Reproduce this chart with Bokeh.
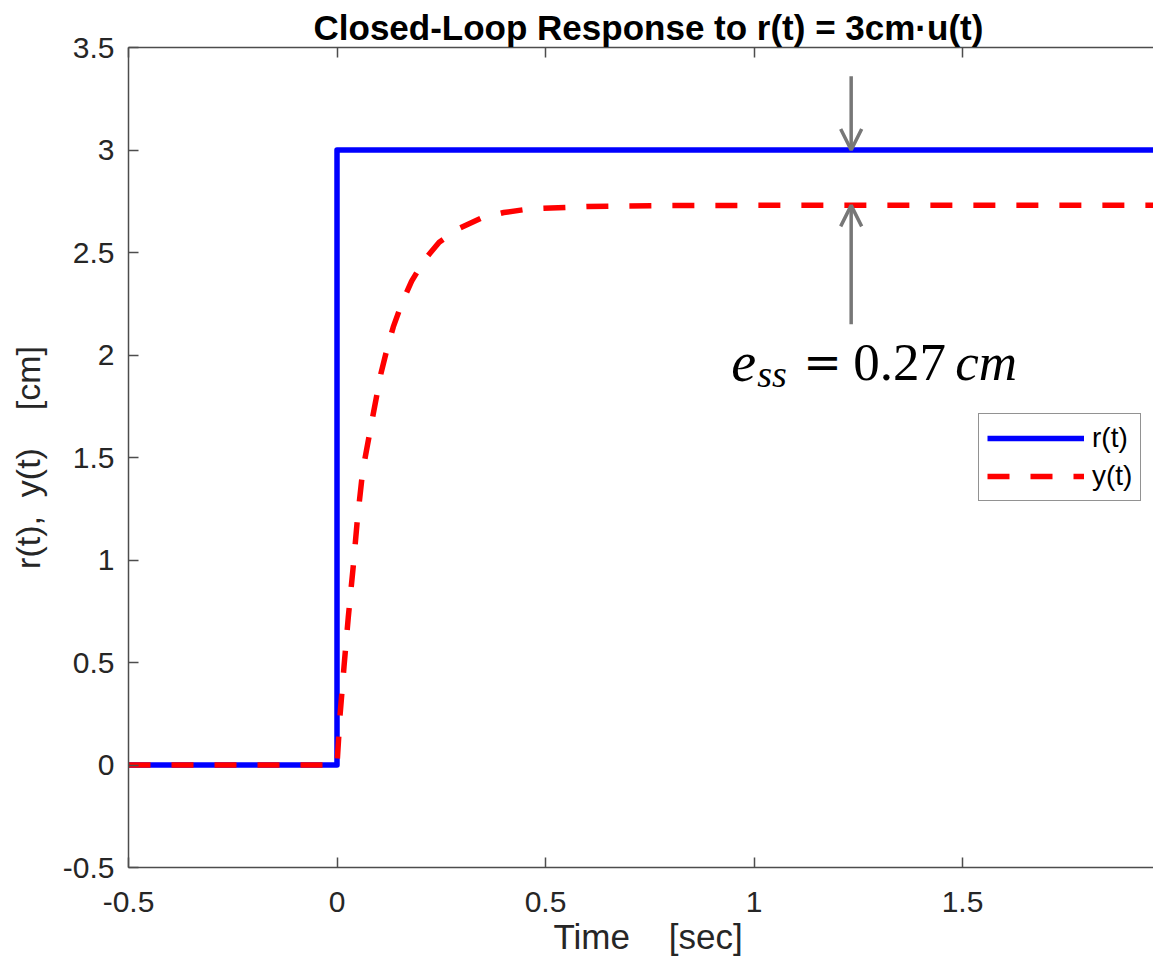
from bokeh.plotting import figure
from bokeh.models import (FixedTicker, LinearAxis, Label, Arrow, OpenHead,
                          Legend, LegendItem, Range1d, Title)
from bokeh.embed import file_html
from bokeh.resources import INLINE

# ---- data ----
t_ref = [-0.5, 0.0, 0.0, 2.0]
r_ref = [0.0, 0.0, 3.0, 3.0]

t_out = [-0.5, 0.0, 0.0072, 0.0168, 0.027, 0.0384, 0.0488, 0.0616, 0.083,
         0.105, 0.12, 0.135, 0.156, 0.179, 0.21, 0.245, 0.295, 0.347, 0.40,
         0.463, 0.60, 0.80, 1.0, 1.5, 2.0]
y_out = [0.0, 0.0, 0.24, 0.48, 0.72, 0.957, 1.196, 1.434, 1.67,
         1.907, 2.03, 2.137, 2.255, 2.36, 2.465, 2.55, 2.62, 2.669, 2.695,
         2.713, 2.724, 2.729, 2.73, 2.73, 2.73]

x_ticks = [-0.5, 0.0, 0.5, 1.0, 1.5]
x_tick_labels = ["-0.5", "0", "0.5", "1", "1.5"]
y_ticks = [-0.5, 0.0, 0.5, 1.0, 1.5, 2.0, 2.5, 3.0, 3.5]
y_tick_labels = ["-0.5", "0", "0.5", "1", "1.5", "2", "2.5", "3", "3.5"]

r_final = 3.0
y_final = 2.73
ess_time = 1.233
ess_value = "0.27"

FONT = "Liberation Sans"
AXIS_COLOR = "#4d4d4d"
TEXT_COLOR = "#262626"
GRAY = "#777777"
NB = "\u00a0"

p = figure(width=1153, height=967,
           x_range=Range1d(-0.5, 1.958), y_range=Range1d(-0.5, 3.5),
           output_backend="svg", toolbar_location=None,
           min_border_left=128, min_border_right=0,
           min_border_top=47, min_border_bottom=100)
p.grid.visible = False
p.outline_line_color = None
p.background_fill_color = "white"
p.border_fill_color = "white"

r1 = p.line(t_ref, r_ref, line_color="#0000ff", line_width=5.5,
            line_join="round")
r2 = p.line(t_out, y_out, line_color="#ff0000", line_width=5.5,
            line_dash="22 21", line_join="round")

def style_axis(ax, ticks, labels):
    ax.ticker = FixedTicker(ticks=ticks)
    ax.major_label_overrides = {tk: lb for tk, lb in zip(ticks, labels)}
    ax.axis_line_color = AXIS_COLOR
    ax.axis_line_width = 1.5
    ax.major_tick_line_color = AXIS_COLOR
    ax.major_tick_line_width = 1.5
    ax.major_tick_in = 10
    ax.major_tick_out = 0
    ax.minor_tick_line_color = None
    ax.major_label_text_font = FONT
    ax.major_label_text_font_size = "30px"
    ax.major_label_text_color = TEXT_COLOR

xax = p.xaxis[0]
style_axis(xax, x_ticks, x_tick_labels)
xax.major_label_standoff = 24

yax = p.yaxis[0]
style_axis(yax, y_ticks, y_tick_labels)
yax.major_label_standoff = 14
yax.axis_label = "r(t)," + NB + NB + "y(t)" + NB * 4 + "[cm]"
yax.axis_label_text_font = FONT
yax.axis_label_text_font_size = "34px"
yax.axis_label_text_font_style = "normal"
yax.axis_label_text_color = TEXT_COLOR
yax.axis_label_standoff = 13

top = LinearAxis()
style_axis(top, x_ticks, ["" for _ in x_ticks])
top.major_label_text_font_size = "1px"
top.major_label_standoff = 0
p.add_layout(top, "above")

# title and x label placed over the centre of the (cropped) axes
p.title.text = "Closed-Loop Response to r(t) = 3cm\u00b7u(t)"
p.title.align = "left"
p.title.offset = 185
p.title.text_font = FONT
p.title.text_font_size = "35px"
p.title.text_font_style = "bold"
p.title.text_color = "#000000"
p.title.standoff = 2

p.add_layout(Title(text="Time" + NB * 4 + "[sec]", align="left", offset=425,
                   text_font=FONT, text_font_size="35px",
                   text_font_style="normal", text_color=TEXT_COLOR,
                   standoff=0), "below")

# steady-state error arrows
p.add_layout(Arrow(x_start=ess_time, y_start=r_final + 0.36,
                   x_end=ess_time, y_end=r_final,
                   line_color=GRAY, line_width=3.5,
                   end=OpenHead(size=21, line_color=GRAY, line_width=3.5)))
p.add_layout(Arrow(x_start=ess_time, y_start=y_final - 0.58,
                   x_end=ess_time, y_end=y_final,
                   line_color=GRAY, line_width=3.5,
                   end=OpenHead(size=21, line_color=GRAY, line_width=3.5)))

# e_ss = 0.27 cm
ax_t, ax_y = 0.95, 1.8826
SERIF = "Liberation Serif"
def math_piece(text, dx, dy, size, style, font=SERIF):
    p.add_layout(Label(x=ax_t, y=ax_y, x_offset=dx, y_offset=dy, text=text,
                       text_font=font, text_font_size=size,
                       text_font_style=style, text_color="#000000",
                       text_align="left", text_baseline="alphabetic"))
math_piece("e", -2, 17, "56px", "italic")
math_piece("ss", 24, 5, "38px", "italic")
math_piece("=", 70, 17, "46px", "normal", "DejaVu Serif")
math_piece(ess_value, 120, 17, "53px", "normal")
math_piece("cm", 222, 17, "53px", "italic")

legend = Legend(items=[LegendItem(label="r(t)", renderers=[r1]),
                       LegendItem(label="y(t)", renderers=[r2])],
                location=(850, 366), orientation="vertical",
                label_text_font=FONT, label_text_font_size="28px",
                label_text_color="#000000",
                border_line_color=TEXT_COLOR, border_line_width=1.5,
                background_fill_color="white", background_fill_alpha=1.0,
                padding=8, spacing=6, margin=0,
                glyph_width=97, glyph_height=28, label_height=28,
                label_standoff=8)
p.add_layout(legend)

open("out.html", "w").write(file_html(p, INLINE))
